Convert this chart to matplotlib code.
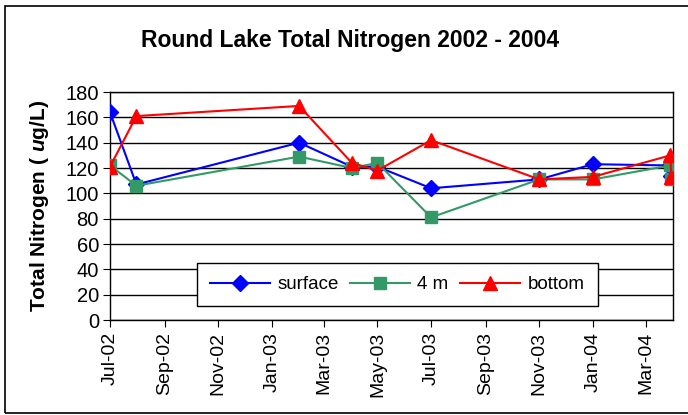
import datetime as dt
import matplotlib
matplotlib.use("Agg")
import matplotlib.pyplot as plt
import matplotlib.dates as mdates
from matplotlib.patches import Rectangle

plt.rcParams['font.family'] = ['Liberation Sans', 'DejaVu Sans']
plt.rcParams['mathtext.fontset'] = 'custom'
plt.rcParams['mathtext.it'] = 'Liberation Sans:bold:italic'

# sample dates
dates = [dt.date(2002, 7, 1), dt.date(2002, 7, 31), dt.date(2003, 2, 1),
         dt.date(2003, 4, 2), dt.date(2003, 5, 1), dt.date(2003, 7, 1),
         dt.date(2003, 11, 1), dt.date(2004, 1, 1), dt.date(2004, 3, 29),
         dt.date(2004, 3, 30)]

surface = [164, 107, 140, 121, 121, 104, 111, 123, 122, 114]
m4 = [122, 106, 129, 120, 124, 81, 111, 111, 122, 111]
bottom = [121, 161, 169, 124, 118, 142, 111, 113, 130, 113]

tick_dates = [dt.date(2002, 7, 1), dt.date(2002, 9, 1), dt.date(2002, 11, 1),
              dt.date(2003, 1, 1), dt.date(2003, 3, 1), dt.date(2003, 5, 1),
              dt.date(2003, 7, 1), dt.date(2003, 9, 1), dt.date(2003, 11, 1),
              dt.date(2004, 1, 1), dt.date(2004, 3, 1)]

fig = plt.figure(figsize=(6.88, 4.15), dpi=100)
ax = fig.add_axes([110 / 688, 1 - 320 / 415, 563 / 688, 228 / 415])

# outer chart frame
fig.patches.append(Rectangle((5 / 688, 1 - 413 / 415), 1.0, 407 / 415,
                             transform=fig.transFigure, fill=False,
                             edgecolor='black', linewidth=1.2))

ax.plot(dates, surface, color='#0000FF', marker='D', markersize=8,
        linewidth=1.5, label='surface', zorder=3)
ax.plot(dates, m4, color='#339966', marker='s', markersize=8,
        linewidth=1.5, label='4 m', zorder=3)
ax.plot(dates, bottom, color='#FF0000', marker='^', markersize=10,
        linewidth=1.5, label='bottom', zorder=3)

ax.set_xlim(dt.date(2002, 7, 1), dt.date(2004, 4, 1))
ax.set_ylim(0, 180)
ax.set_yticks(range(0, 181, 20))
ax.set_xticks(tick_dates)
ax.xaxis.set_major_formatter(mdates.DateFormatter('%b-%y'))
ax.tick_params(axis='x', rotation=90, labelsize=14, length=5, direction='out')
ax.tick_params(axis='y', labelsize=14.5, length=5, direction='out', pad=3)
ax.grid(axis='y', color='black', linewidth=1)
ax.set_axisbelow(True)
for s in ax.spines.values():
    s.set_linewidth(1)

ax.set_ylabel('Total Nitrogen ( $\\it{u}$g/L)', fontsize=15,
              fontweight='bold', labelpad=10)
fig.text(350 / 688, 1 - 40 / 415, 'Round Lake Total Nitrogen 2002 - 2004',
         ha='center', va='center', fontsize=16.5, fontweight='bold')

leg = ax.legend(loc='lower center', bbox_to_anchor=(0.51, 0.06), ncol=3,
                fontsize=13.5, frameon=True, fancybox=False, framealpha=1,
                edgecolor='black', borderpad=0.7, handlelength=3.2,
                columnspacing=0.6, handletextpad=0.4, borderaxespad=0)
leg.get_frame().set_linewidth(1)

fig.savefig('out.png', dpi=100)
